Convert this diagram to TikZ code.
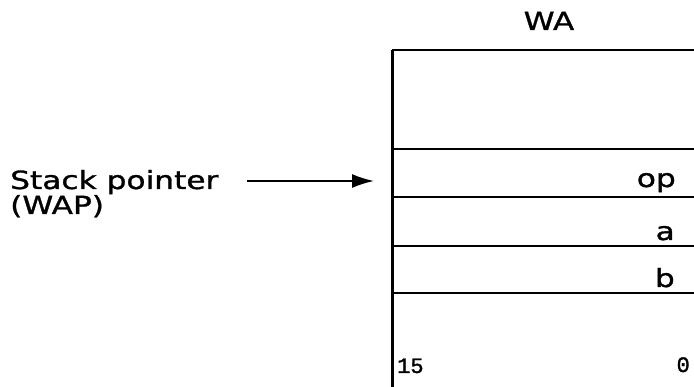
\documentclass[tikz,border=0pt]{standalone}
\usepackage{fontspec}
\usetikzlibrary{arrows.meta}
\newfontfamily\widesans[FakeStretch=1.25,FakeBold=1.2]{DejaVu Sans}
\newfontfamily\smallmono[FakeBold=1.5]{Liberation Mono}
\begin{document}
\begin{tikzpicture}[x=1pt,y=-1pt,
  lbl/.style={inner sep=0pt,font=\widesans\fontsize{25}{28}\selectfont},
  bitlbl/.style={inner sep=0pt,font=\smallmono\fontsize{22}{24}\selectfont},
  rule/.style={line width=2pt},
  ptr/.style={line width=1.8pt,-{Latex[length=22pt,width=14pt]}}]
\useasboundingbox (0,0) rectangle (694,387);
% frame
\coordinate (tl) at (392,50);
\coordinate (bl) at (392,387);
\coordinate (tr) at (694,50);
\draw[line width=3pt] (tl) -- (bl);
\draw[rule] (tl) -- (tr);
\foreach \y/\n in {149/r1,197/r2,246/r3,293/r4}{
  \coordinate (\n l) at (392,\y);
  \coordinate (\n r) at (694,\y);
  \draw[rule] (\n l) -- (\n r);
}
% labels
\node[lbl,anchor=base] (wa) at (549,30) {WA};
\node[lbl,anchor=base west] (sp) at (10,189) {Stack pointer};
\node[lbl,anchor=base west] (wap) at (10,214) {(WAP)};
\node[lbl,anchor=base east] (op) at (676,187) {op};
\node[lbl,anchor=base east] (a) at (675,240) {a};
\node[lbl,anchor=base east] (b) at (675,287) {b};
\node[bitlbl,anchor=base west] (b15) at (397,373) {15};
\node[bitlbl,anchor=base east] (b0) at (690,372) {0};
% arrow
\coordinate (as) at (247,181);
\coordinate (ae) at (374,181);
\draw[ptr] (as) -- (ae);
\end{tikzpicture}
\end{document}
